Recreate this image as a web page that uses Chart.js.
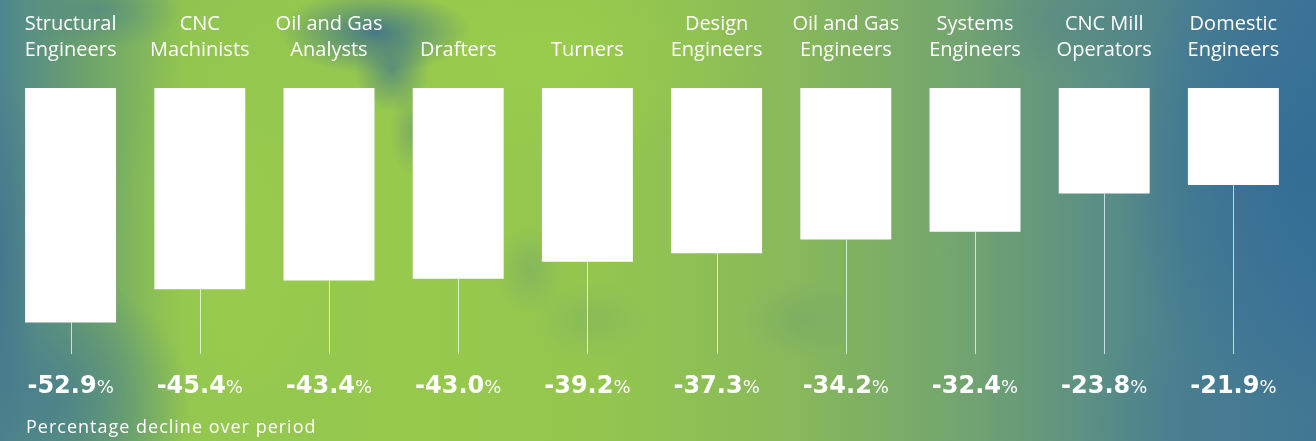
<!DOCTYPE html>
<html>
<head>
<meta charset="utf-8">
<script src="https://cdn.jsdelivr.net/npm/chart.js@4.4.1/dist/chart.umd.min.js"></script>
<style>
  html, body { margin: 0; padding: 0; }
  body { width: 1316px; height: 441px; overflow: hidden; }
  #wrap {
    position: relative; width: 1316px; height: 441px;
    background:
      radial-gradient(ellipse 40px 200px at 0px 260px, rgba(66,118,140,0.9), rgba(66,118,140,0) 100%),
      radial-gradient(ellipse 80px 40px at 100px 10px, rgba(70,125,140,0.55), rgba(70,125,140,0) 100%),
      radial-gradient(ellipse 95px 42px at 375px 32px, rgba(55,108,142,0.85), rgba(55,108,142,0) 100%),
      radial-gradient(ellipse 38px 42px at 392px 70px, rgba(55,108,142,0.6), rgba(55,108,142,0) 100%),
      radial-gradient(ellipse 22px 45px at 412px 130px, rgba(60,115,140,0.3), rgba(60,115,140,0) 100%),
      radial-gradient(ellipse 35px 45px at 530px 270px, rgba(70,125,135,0.22), rgba(70,125,135,0) 100%),
      radial-gradient(ellipse 150px 130px at 40px 400px, rgba(74,128,140,0.95), rgba(74,128,140,0) 100%),
      radial-gradient(ellipse 60px 40px at 590px 320px, rgba(85,135,130,0.18), rgba(85,135,130,0) 100%),
      radial-gradient(ellipse 60px 40px at 800px 320px, rgba(85,135,130,0.2), rgba(85,135,130,0) 100%),
      radial-gradient(ellipse 180px 240px at 1300px 170px, rgba(52,108,150,0.85), rgba(52,108,150,0) 100%),
      radial-gradient(ellipse 200px 120px at 1280px 420px, rgba(70,122,145,0.6), rgba(70,122,145,0) 100%),
      radial-gradient(ellipse 120px 60px at 1080px 20px, rgba(80,130,135,0.45), rgba(80,130,135,0) 100%),
      radial-gradient(ellipse 120px 280px at 230px 260px, rgba(155,205,75,0.8), rgba(155,205,75,0) 100%),
      radial-gradient(ellipse 200px 120px at 560px 60px, rgba(155,205,75,0.7), rgba(155,205,75,0) 100%),
      linear-gradient(90deg, #4e8690 0%, #6aa06e 6%, #8fc451 14%, #97c94d 30%, #94c64f 45%, #88b95a 60%, #75a66e 72%, #5e9282 82%, #4a8090 90%, #3e7396 100%);
  }
  canvas { position: absolute; left: 0; top: 0; }
</style>
</head>
<body>
<div id="wrap"><canvas id="c" width="1316" height="441"></canvas></div>
<script>
const categories = [
  "Structural\nEngineers", "CNC\nMachinists", "Oil and Gas\nAnalysts", "Drafters", "Turners",
  "Design\nEngineers", "Oil and Gas\nEngineers", "Systems\nEngineers", "CNC Mill\nOperators", "Domestic\nEngineers"
];
const declines = [-52.9, -45.4, -43.4, -43.0, -39.2, -37.3, -34.2, -32.4, -23.8, -21.9];
const footerText = "Percentage decline over period";

const FONT = "'Open Sans', Lato, sans-serif";
const NUMFONT = "'DejaVu Sans', sans-serif";

const overlay = {
  id: 'overlay',
  afterDatasetsDraw(chart) {
    const ctx = chart.ctx;
    const meta = chart.getDatasetMeta(0);
    const area = chart.chartArea;
    const xs = chart.scales.x;
    ctx.save();
    // leader lines
    ctx.strokeStyle = 'rgba(255,255,255,0.7)';
    ctx.lineWidth = 1;
    meta.data.forEach((bar) => {
      const x = Math.round(bar.x) + 0.5;
      ctx.beginPath();
      ctx.moveTo(x, bar.y);
      ctx.lineTo(x, area.bottom);
      ctx.stroke();
    });
    // category labels (bottom aligned)
    ctx.fillStyle = '#ffffff';
    ctx.textAlign = 'center';
    ctx.textBaseline = 'alphabetic';
    ctx.font = "20px " + FONT;
    categories.forEach((lab, i) => {
      const x = xs.getPixelForValue(i);
      const lines = lab.split("\n");
      for (let k = 0; k < lines.length; k++) {
        const y = 56 - (lines.length - 1 - k) * 26;
        ctx.fillText(lines[k], x, y);
      }
    });
    // value labels
    const numFont = "bold 24px " + NUMFONT;
    const pctFont = "18px " + NUMFONT;
    declines.forEach((v, i) => {
      const x = xs.getPixelForValue(i);
      const num = v.toFixed(1);
      ctx.font = numFont;
      const w1 = ctx.measureText(num).width;
      ctx.font = pctFont;
      const w2 = ctx.measureText("%").width;
      const left = x - (w1 + w2) / 2;
      ctx.textAlign = 'left';
      ctx.font = numFont;
      ctx.fillText(num, left, 393);
      ctx.font = pctFont;
      ctx.fillText("%", left + w1, 393);
    });
    // footer
    ctx.textAlign = 'left';
    ctx.font = "18px " + FONT;
    ctx.letterSpacing = "1px";
    ctx.fillText(footerText, 26, 433);
    ctx.letterSpacing = "0px";
    ctx.restore();
  }
};

new Chart(document.getElementById('c'), {
  type: 'bar',
  data: {
    labels: categories,
    datasets: [{
      data: declines,
      backgroundColor: '#ffffff',
      borderWidth: 0,
      barPercentage: 0.704,
      categoryPercentage: 1.0
    }]
  },
  options: {
    responsive: false,
    animation: false,
    layout: { padding: { top: 88, bottom: 87, left: 6, right: 18 } },
    plugins: { legend: { display: false }, tooltip: { enabled: false } },
    scales: {
      x: { display: false },
      y: { display: false, min: -60, max: 0 }
    }
  },
  plugins: [overlay]
});
</script>
</body>
</html>
